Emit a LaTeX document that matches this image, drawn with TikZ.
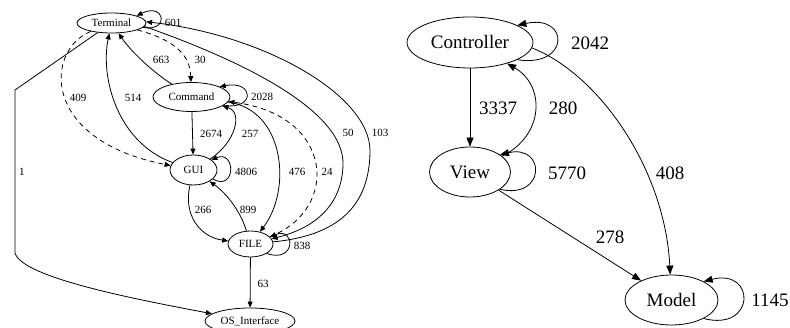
\documentclass[tikz,border=0pt]{standalone}
\usepackage{fontspec}
\setmainfont{Liberation Serif}
\newfontfamily\graphfont{Liberation Serif}
\usetikzlibrary{shapes.geometric,arrows.meta}
\begin{document}
\begin{tikzpicture}[x=1pt,y=-1pt,
  st/.style={draw,ellipse,inner sep=0pt,line width=0.8pt},
  small/.style={font=\graphfont\fontsize{11}{12}\selectfont},
  big/.style={font=\graphfont\fontsize{19}{22}\selectfont},
  lbl/.style={inner sep=0pt},
  ed/.style={line width=0.8pt,-{Triangle[length=6pt,width=5pt]}},
  edb/.style={line width=0.8pt,-{Triangle[length=9pt,width=7pt]}},
  dsh/.style={dash pattern=on 5pt off 4pt}]
\useasboundingbox (0,0) rectangle (790,328);

% ---- left graph: module call counts ----
\node[st,small,minimum width=69pt,minimum height=20pt] (term) at (111.5,23) {Terminal};
\node[st,small,minimum width=77pt,minimum height=29pt] (cmd) at (191.5,97) {Command};
\node[st,small,minimum width=47pt,minimum height=30pt] (gui) at (193.5,170) {GUI};
\node[st,small,minimum width=45pt,minimum height=26pt] (file) at (250.5,244) {FILE};
\node[st,small,minimum width=90pt,minimum height=26pt] (os) at (250,321) {OS\_Interface};

\coordinate (b1) at (15,90);
\coordinate (b2) at (15,253);
\coordinate (w50) at (343,165);
\coordinate (w103) at (370,150);

\draw[ed] (term.-8) .. controls (170,32) and (165,2) .. (term.16);
\draw[ed,dsh] (term) .. controls (175,40) and (190,55) .. (cmd);
\draw[ed] (cmd) .. controls (150,70) and (130,50) .. (term);
\draw[ed,dsh] (term) .. controls (45,50) and (40,140) .. (gui);
\draw[ed] (gui) .. controls (118,143) and (100,78) .. (term);
\draw[ed] (term) -- (b1) -- (b2) .. controls (22,278) and (140,300) .. (os);
\draw[ed] (term.-6) .. controls (240,60) and (345,110) .. (w50)
  .. controls (342,205) and (315,228) .. (file);
\draw[ed] (file) .. controls (345,235) and (370,200) .. (w103)
  .. controls (369,95) and (265,35) .. (term.2);
\draw[ed] (cmd.-15) .. controls (256,110) and (254,80) .. (cmd.20);
\draw[ed] (cmd) -- (gui);
\draw[ed] (gui) .. controls (236,142) and (243,112) .. (cmd);
\draw[ed] (gui.-25) .. controls (236,192) and (236,150) .. (gui.30);
\draw[ed] (gui) .. controls (183,215) and (200,237) .. (file);
\draw[ed] (file) .. controls (240,210) and (226,193) .. (gui);
\draw[ed] (cmd) .. controls (285,110) and (292,190) .. (file);
\draw[ed,dsh] (file) .. controls (340,210) and (335,115) .. (cmd);
\draw[ed] (file.-30) .. controls (296,264) and (296,226) .. (file.20);
\draw[ed] (file) -- (os);

\node[lbl,small] (l601) at (173,23) {601};
\node[lbl,small] (l30) at (200,60) {30};
\node[lbl,small] (l663) at (161,60) {663};
\node[lbl,small] (l409) at (78,98) {409};
\node[lbl,small] (l514) at (133,98) {514};
\node[lbl,small] (l1) at (22,172) {1};
\node[lbl,small] (l2028) at (262,97) {2028};
\node[lbl,small] (l2674) at (211,134) {2674};
\node[lbl,small] (l257) at (250,134) {257};
\node[lbl,small] (l4806) at (246,172) {4806};
\node[lbl,small] (l476) at (297,172) {476};
\node[lbl,small] (l24) at (327,172) {24};
\node[lbl,small] (l50) at (348,133) {50};
\node[lbl,small] (l103) at (380,133) {103};
\node[lbl,small] (l266) at (203,210) {266};
\node[lbl,small] (l899) at (248,210) {899};
\node[lbl,small] (l838) at (302,246) {838};
\node[lbl,small] (l63) at (263,284) {63};

% ---- right graph: MVC layers ----
\node[st,big,minimum width=126pt,minimum height=51pt] (ctrl) at (470,42.5) {Controller};
\node[st,big,minimum width=81pt,minimum height=50pt] (view) at (470,172) {View};
\node[st,big,minimum width=93pt,minimum height=50pt] (model) at (671.5,300) {Model};

\draw[edb] (ctrl) -- (view);
\draw[edb] (view) .. controls (545,135) and (545,85) .. (ctrl);
\draw[edb] (ctrl.-20) .. controls (570,68) and (570,14) .. (ctrl.20);
\draw[edb] (view.-30) .. controls (546,200) and (546,144) .. (view.30);
\draw[edb] (ctrl.-5) .. controls (600,75) and (665,170) .. (model);
\draw[edb] (view) -- (model);
\draw[edb] (model.-30) .. controls (756,332) and (756,268) .. (model.30);

\node[lbl,big] (l2042) at (590,43) {2042};
\node[lbl,big] (l3337) at (498,108) {3337};
\node[lbl,big] (l280) at (563,108) {280};
\node[lbl,big] (l5770) at (567,173) {5770};
\node[lbl,big] (l408) at (670,173) {408};
\node[lbl,big] (l278) at (610,237) {278};
\node[lbl,big] (l1145) at (770,300) {1145};
\end{tikzpicture}
\end{document}
